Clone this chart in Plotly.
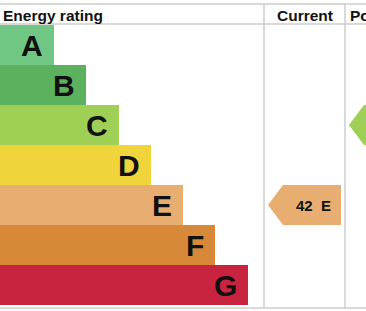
import plotly.graph_objects as go

# Data
bands = ["A", "B", "C", "D", "E", "F", "G"]
bar_length = [54, 86, 119, 151, 183, 215, 248]
band_colors = ["#70c683", "#5cb15e", "#9fd055", "#f0d43c", "#e8ae71", "#d88839", "#c8243f"]
current_score = 42
current_band = "E"
potential_band = "C"

# Layout constants (pixels)
W, H = 366, 311
band_h = 40
first_center = 45
col_cur = (264, 345)
col_pot = (345, 426)
line_top, line_head, line_bot = 4, 24, 308
grid = "#cccccc"
font_fam = "Liberation Sans, Arial, sans-serif"

yidx = list(range(len(bands)))
y_top = -first_center / band_h
y_bot = (H - first_center) / band_h

def ypix(p):
    return (p - first_center) / band_h  # pixel -> y data units

fig = go.Figure()
fig.add_trace(go.Bar(
    y=yidx, x=bar_length, orientation="h",
    marker=dict(color=band_colors, line=dict(width=0)),
    width=1.0, hoverinfo="skip", showlegend=False,
))

# letters
for i, (b, L) in enumerate(zip(bands, bar_length)):
    fig.add_annotation(x=L - 9, y=i, text=f"<b>{b}</b>", showarrow=False,
                       xanchor="right", yanchor="middle",
                       font=dict(family=font_fam, size=30, color="#111111"))

shapes = []
# grid lines
for yp in (line_top, line_head, line_bot):
    shapes.append(dict(type="line", xref="x", yref="y", x0=0, x1=W,
                       y0=ypix(yp), y1=ypix(yp), line=dict(color=grid, width=1.5)))
for xp in (col_cur[0], col_cur[1]):
    shapes.append(dict(type="line", xref="x", yref="y", x0=xp, x1=xp,
                       y0=ypix(line_top), y1=ypix(line_bot), line=dict(color=grid, width=1.5)))

def arrow_path(col, idx):
    tip = col[0] + 4
    body = tip + 15
    right = col[1] - 4
    t, m, b = idx - 0.5, idx, idx + 0.5
    return f"M{tip},{m} L{body},{t} L{right},{t} L{right},{b} L{body},{b} Z"

ci = bands.index(current_band)
pi = bands.index(potential_band)
shapes.append(dict(type="path", xref="x", yref="y", path=arrow_path(col_cur, ci),
                   fillcolor=band_colors[ci], line=dict(width=0)))
shapes.append(dict(type="path", xref="x", yref="y", path=arrow_path(col_pot, pi),
                   fillcolor=band_colors[pi], line=dict(width=0)))

fig.add_annotation(x=(col_cur[0] + 4 + 15 + col_cur[1] - 4) / 2 + 1, y=ci,
                   text=f"<b>{current_score}  {current_band}</b>", showarrow=False,
                   xanchor="center", yanchor="middle",
                   font=dict(family=font_fam, size=15, color="#111111"))

# headers
hy = ypix((line_top + line_head) / 2 + 1)
fig.add_annotation(x=1, y=hy, text="<b>Energy rating</b>", showarrow=False,
                   xanchor="left", yanchor="middle",
                   font=dict(family=font_fam, size=15.5, color="#111111"))
fig.add_annotation(x=sum(col_cur) / 2, y=hy, text="<b>Current</b>", showarrow=False,
                   xanchor="center", yanchor="middle",
                   font=dict(family=font_fam, size=15.5, color="#111111"))
fig.add_annotation(x=col_pot[0] + 3, y=hy, text="<b>Potential</b>", showarrow=False,
                   xanchor="left", yanchor="middle",
                   font=dict(family=font_fam, size=15.5, color="#111111"))

fig.update_layout(
    width=W, height=H, margin=dict(l=0, r=0, t=0, b=0),
    paper_bgcolor="white", plot_bgcolor="white",
    bargap=0, shapes=shapes,
    xaxis=dict(range=[0, W], visible=False, fixedrange=True),
    yaxis=dict(range=[y_bot, y_top], visible=False, fixedrange=True),
)
fig.write_html("out.html")
